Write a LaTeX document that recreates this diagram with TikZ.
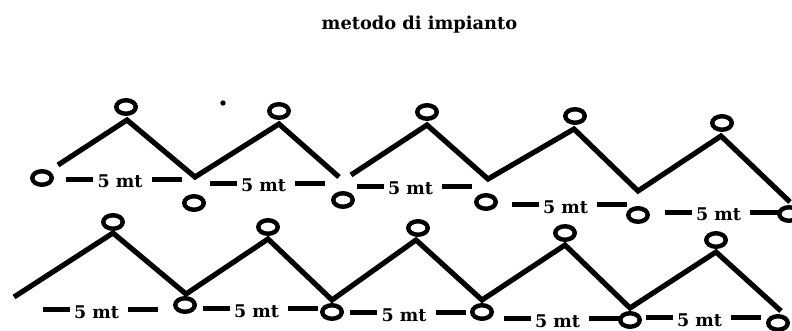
\documentclass[tikz,border=0pt]{standalone}
\usepackage{fontspec}
\setmainfont{DejaVu Serif}
\usetikzlibrary{shapes.geometric}
\begin{document}
\begin{tikzpicture}[x=1pt,y=-1pt,
  ring/.style={draw, ellipse, line width=4.4pt, minimum width=19.5pt, minimum height=13.5pt, inner sep=0pt},
  zig/.style={line width=5.2pt, line join=miter},
  lab/.style={font=\fontsize{17.5}{20}\selectfont\bfseries, inner sep=0pt, anchor=base},
  dashseg/.style={line width=4.6pt},
  titletext/.style={font=\fontsize{17.8}{20}\selectfont\bfseries, inner sep=0pt, anchor=base}]
\useasboundingbox (0,0) rectangle (792,331);

\node[titletext] (title) at (419.5,30) {metodo di impianto};

% stray dot
\fill (223,103) circle (2.7pt);

% ---- row 1 circles
\foreach \n/\x/\y in {c0/42/178, t1/126/107, b1/194/203, t2/279/111, b2/343/200,
  t3/427/112, b3/486/202, t4/575/116, b4/638/215, t5/722/123, b5/789/214}
  \node[ring] (\n) at (\x,\y) {};

% ---- row 2 circles
\foreach \n/\x/\y in {s1/113/222, w1/185/305, s2/268/227, w2/332/312, s3/418/228,
  w3/482/312, s4/565/233, w4/630/320, s5/716/240, w5/778/323}
  \node[ring] (\n) at (\x,\y) {};

% ---- row 1 vertices
\coordinate (a0) at (58,165);
\coordinate (p1) at (127,120);
\coordinate (v1) at (195,177);
\coordinate (p2) at (279,124);
\coordinate (v2a) at (339,177);
\coordinate (v2b) at (351,175);
\coordinate (p3) at (427,125);
\coordinate (v3) at (488,179);
\coordinate (p4) at (574,129);
\coordinate (v4) at (638,191);
\coordinate (p5) at (721,136);
\coordinate (a1) at (790,202);

\draw[zig] (a0) -- (p1) -- (v1) -- (p2) -- (v2a);
\draw[zig] (v2b) -- (p3) -- (v3) -- (p4) -- (v4) -- (p5) -- (a1);

% ---- row 2 vertices
\coordinate (a2) at (14,297);
\coordinate (q1) at (113,233);
\coordinate (r1) at (186,294);
\coordinate (q2) at (268,239);
\coordinate (r2) at (332,300);
\coordinate (q3) at (416,240);
\coordinate (r3) at (482,300);
\coordinate (q4) at (565,245);
\coordinate (r4) at (630,308);
\coordinate (q5) at (716,252);
\coordinate (a3) at (781,311);

\draw[zig] (a2) -- (q1) -- (r1) -- (q2) -- (r2) -- (q3) -- (r3) -- (q4) -- (r4) -- (q5) -- (a3);

% ---- labels
\foreach \n/\x/\y in {l1/120/188, l2/263.5/192, l3/410.5/195, l4/565.5/213, l5/718.5/221,
  m1/96.5/318, m2/256.5/317, m3/404/321, m4/557.5/327, m5/699.5/326}{
  \node[lab] (\n) at (\x,\y) {5 mt};
  \draw[dashseg] ([xshift=-4pt,yshift=8.5pt]\n.base west) -- ++(-27,0);
  \draw[dashseg] ([xshift=9pt,yshift=8.5pt]\n.base east) -- ++(30,0);
}
\end{tikzpicture}
\end{document}
